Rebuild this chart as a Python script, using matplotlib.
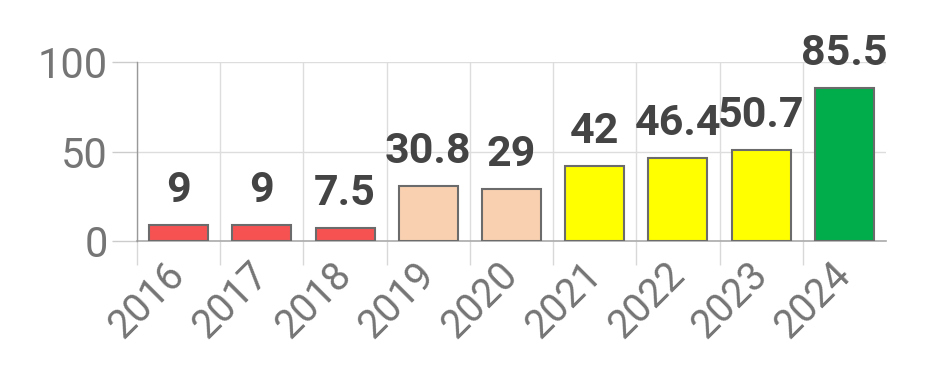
import matplotlib
matplotlib.use("Agg")
import matplotlib.pyplot as plt
import numpy as np

years = ["2016", "2017", "2018", "2019", "2020", "2021", "2022", "2023", "2024"]
values = [9, 9, 7.5, 30.8, 29, 42, 46.4, 50.7, 85.5]
bar_colors = ["#f65252", "#f65252", "#f65252", "#f9d1b1", "#f9d1b1",
              "#ffff00", "#ffff00", "#ffff00", "#00ad4a"]
y_ticks = [0, 50, 100]

plt.rcParams['font.family'] = ['Roboto', 'DejaVu Sans']

fig = plt.figure(figsize=(9.45, 3.68), dpi=100)
ax = fig.add_axes([137/945, 1-241/368, (886-137)/945, (241-62)/368])

x = np.arange(len(years))
bars = ax.bar(x, values, width=0.71, color=bar_colors, edgecolor="#6b6b6b",
              linewidth=1.5, zorder=3)

for xi, v in zip(x, values):
    ax.annotate(f"{v:g}", (xi, v), xytext=(0, 16.5), textcoords="offset points",
                ha="center", va="baseline", fontsize=31, fontweight="bold",
                color="#444444", zorder=4, annotation_clip=False)

ax.set_xlim(-0.5, len(years) - 0.5)
ax.set_ylim(0, 100)

ax.set_yticks(y_ticks)
ax.set_yticklabels([str(t) for t in y_ticks])
ax.tick_params(axis='y', length=18, width=1, color="#cccccc", pad=3,
               labelsize=30, labelcolor="#757575")

ax.set_xticks(x)
ax.set_xticklabels(years, rotation=45, ha="right", va="center",
                   rotation_mode="anchor")
ax.tick_params(axis='x', which='major', length=0, pad=20, labelsize=28.5,
               labelcolor="#757575")
ax.set_xticks(np.arange(-0.5, len(years) - 1, 1), minor=True)
ax.tick_params(axis='x', which='minor', length=17, width=1, color="#d8d8d8")

ax.grid(axis='y', color="#dddddd", linewidth=1, zorder=0)
ax.grid(axis='x', which='minor', color="#dddddd", linewidth=1, zorder=0)
ax.grid(axis='x', which='major', visible=False)

for s in ["top", "right"]:
    ax.spines[s].set_visible(False)
ax.spines["left"].set_color("#999999")
ax.spines["bottom"].set_color("#aaaaaa")
ax.spines["left"].set_linewidth(1)
ax.spines["bottom"].set_linewidth(1.2)
ax.spines["left"].set_zorder(5)

fig.savefig("out.png", dpi=100)
